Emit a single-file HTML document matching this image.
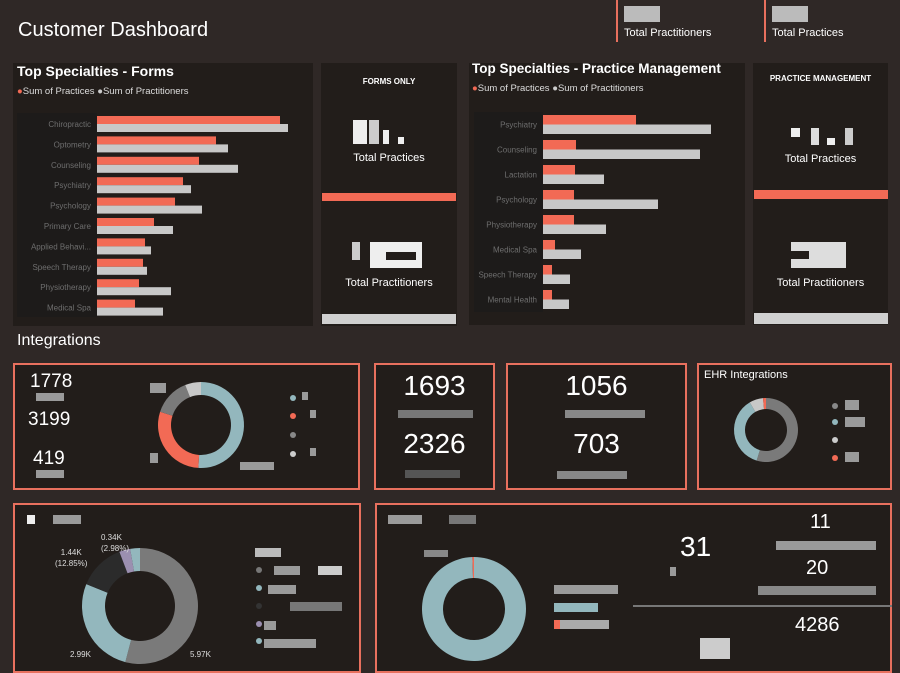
<!DOCTYPE html>
<html><head><meta charset="utf-8">
<style>
body{margin:0;width:900px;height:659px;background:#2f2826;font-family:"Liberation Sans",sans-serif;color:#fff;overflow:hidden;position:relative}
.abs{position:absolute}
.panel{position:absolute;background:#221d1a}
.bord{position:absolute;background:#221d1a;border:2px solid #e8705e;box-sizing:border-box}
.t{position:absolute;white-space:nowrap}
.n{font-family:"Liberation Sans Narrow","Liberation Sans",sans-serif}
.px{position:absolute;background:#9a9a9a}
</style></head><body>
<div class="t" style="left:18px;top:19px;font-size:20px;">Customer Dashboard</div>
<div class="abs" style="left:616px;top:0;width:2px;height:42px;background:#e8705e"></div>
<div class="px" style="left:624px;top:6px;width:36px;height:16px;background:#bbb"></div>
<div class="t" style="left:624px;top:27px;font-size:11px;">Total Practitioners</div>
<div class="abs" style="left:764px;top:0;width:2px;height:42px;background:#e8705e"></div>
<div class="px" style="left:772px;top:6px;width:36px;height:16px;background:#bbb"></div>
<div class="t" style="left:772px;top:27px;font-size:11px;">Total Practices</div>

<div class="panel" style="left:13px;top:63px;width:300px;height:263px"></div>
<div class="t" style="left:17px;top:63px;font-size:14px;font-weight:bold">Top Specialties - Forms</div>
<div class="t" style="left:17px;top:86px;font-size:9.5px;color:#ddd"><span style="color:#f26a55">●</span>Sum of Practices <span style="color:#ccc">●</span>Sum of Practitioners</div>
<svg class="abs" id="formsSvg" style="left:0;top:0" width="320" height="330"></svg>

<div class="panel" style="left:321px;top:63px;width:136px;height:263px"></div>
<div class="t" style="left:321px;width:136px;text-align:center;top:77px;font-size:8px;font-weight:bold">FORMS ONLY</div>
<div class="px" style="left:353px;top:120px;width:14px;height:24px;background:#eee"></div><div class="px" style="left:369px;top:120px;width:10px;height:24px;background:#ccc"></div><div class="px" style="left:383px;top:130px;width:6px;height:14px;background:#eee"></div><div class="px" style="left:398px;top:137px;width:6px;height:7px;background:#eee"></div>
<div class="t" style="left:321px;width:136px;text-align:center;top:152px;font-size:11px">Total Practices</div>
<div class="abs" style="left:322px;top:193px;width:134px;height:8px;background:#f26a55"></div>
<div class="px" style="left:352px;top:242px;width:8px;height:18px;background:#ccc"></div><div class="px" style="left:370px;top:242px;width:52px;height:26px;background:#eee"></div><div class="px" style="left:386px;top:252px;width:30px;height:8px;background:#221d1a"></div>
<div class="t" style="left:321px;width:136px;text-align:center;top:277px;font-size:11px">Total Practitioners</div>
<div class="abs" style="left:322px;top:314px;width:134px;height:10px;background:#d0d0d0"></div>

<div class="panel" style="left:469px;top:63px;width:276px;height:262px"></div>
<div class="t" style="left:472px;top:61px;font-size:13.5px;font-weight:bold">Top Specialties - Practice Management</div>
<div class="t" style="left:472px;top:83px;font-size:9.5px;color:#ddd"><span style="color:#f26a55">●</span>Sum of Practices <span style="color:#ccc">●</span>Sum of Practitioners</div>
<svg class="abs" id="pmSvg" style="left:0;top:0" width="760" height="330"></svg>

<div class="panel" style="left:753px;top:63px;width:135px;height:262px"></div>
<div class="t" style="left:753px;width:135px;text-align:center;top:74px;font-size:8px;font-weight:bold">PRACTICE MANAGEMENT</div>
<div class="px" style="left:791px;top:128px;width:9px;height:9px;background:#eee"></div><div class="px" style="left:811px;top:128px;width:8px;height:17px;background:#ddd"></div><div class="px" style="left:827px;top:138px;width:8px;height:7px;background:#eee"></div><div class="px" style="left:845px;top:128px;width:8px;height:17px;background:#ccc"></div>
<div class="t" style="left:753px;width:135px;text-align:center;top:153px;font-size:11px">Total Practices</div>
<div class="abs" style="left:754px;top:190px;width:134px;height:9px;background:#f26a55"></div>
<div class="px" style="left:791px;top:242px;width:55px;height:26px;background:#ddd"></div><div class="px" style="left:791px;top:251px;width:18px;height:8px;background:#221d1a"></div>
<div class="t" style="left:753px;width:135px;text-align:center;top:277px;font-size:11px">Total Practitioners</div>
<div class="abs" style="left:754px;top:313px;width:134px;height:11px;background:#d0d0d0"></div>

<div class="t" style="left:17px;top:332px;font-size:16px">Integrations</div>

<div class="bord" style="left:13px;top:363px;width:347px;height:127px"></div>
<div class="t n" style="left:30px;top:371px;font-size:19px">1778</div>
<div class="px" style="left:36px;top:393px;width:28px;height:8px"></div>
<div class="t n" style="left:28px;top:409px;font-size:19px">3199</div>
<div class="t n" style="left:33px;top:448px;font-size:19px">419</div>
<div class="px" style="left:36px;top:470px;width:28px;height:8px"></div>
<div class="px" style="left:150px;top:383px;width:16px;height:10px"></div><div class="px" style="left:150px;top:453px;width:8px;height:10px"></div><div class="px" style="left:240px;top:462px;width:34px;height:8px"></div>
<svg class="abs" id="d1" style="left:150px;top:375px" width="100" height="100"></svg>
<div class="abs" style="left:290px;top:395px;width:6px;height:6px;border-radius:3px;background:#93b7bd"></div><div class="px" style="left:302px;top:392px;width:6px;height:8px"></div>
<div class="abs" style="left:290px;top:413px;width:6px;height:6px;border-radius:3px;background:#f26a55"></div><div class="px" style="left:310px;top:410px;width:6px;height:8px"></div>
<div class="abs" style="left:290px;top:432px;width:6px;height:6px;border-radius:3px;background:#888"></div>
<div class="abs" style="left:290px;top:451px;width:6px;height:6px;border-radius:3px;background:#ccc"></div><div class="px" style="left:310px;top:448px;width:6px;height:8px"></div>

<div class="bord" style="left:374px;top:363px;width:121px;height:127px"></div>
<div class="t n" style="left:374px;width:121px;text-align:center;top:370px;font-size:28px">1693</div>
<div class="px" style="left:398px;top:410px;width:75px;height:8px;background:#777"></div>
<div class="t n" style="left:374px;width:121px;text-align:center;top:428px;font-size:28px">2326</div>
<div class="px" style="left:405px;top:470px;width:55px;height:8px;background:#555"></div>

<div class="bord" style="left:506px;top:363px;width:181px;height:127px"></div>
<div class="t n" style="left:506px;width:181px;text-align:center;top:370px;font-size:28px">1056</div>
<div class="px" style="left:565px;top:410px;width:80px;height:8px;background:#888"></div>
<div class="t n" style="left:506px;width:181px;text-align:center;top:428px;font-size:28px">703</div>
<div class="px" style="left:557px;top:471px;width:70px;height:8px;background:#888"></div>

<div class="bord" style="left:697px;top:363px;width:195px;height:127px"></div>
<div class="t" style="left:704px;top:369px;font-size:11px">EHR Integrations</div>
<svg class="abs" id="d2" style="left:726px;top:390px" width="80" height="80"></svg>
<div class="abs" style="left:832px;top:403px;width:6px;height:6px;border-radius:3px;background:#888"></div><div class="px" style="left:845px;top:400px;width:14px;height:10px"></div>
<div class="abs" style="left:832px;top:419px;width:6px;height:6px;border-radius:3px;background:#93b7bd"></div><div class="px" style="left:845px;top:417px;width:20px;height:10px"></div>
<div class="abs" style="left:832px;top:437px;width:6px;height:6px;border-radius:3px;background:#ccc"></div>
<div class="abs" style="left:832px;top:455px;width:6px;height:6px;border-radius:3px;background:#f26a55"></div><div class="px" style="left:845px;top:452px;width:14px;height:10px"></div>

<div class="bord" style="left:13px;top:503px;width:348px;height:170px"></div>
<div class="px" style="left:27px;top:515px;width:8px;height:9px;background:#eee"></div><div class="px" style="left:53px;top:515px;width:28px;height:9px"></div>
<svg class="abs" id="d3" style="left:60px;top:525px" width="180" height="140"></svg>
<div class="t" style="left:101px;top:532px;font-size:8px;color:#ddd;line-height:11px">0.34K<br>(2.98%)</div>
<div class="t" style="left:55px;top:547px;font-size:8px;color:#ddd;line-height:11px;text-align:center">1.44K<br>(12.85%)</div>
<div class="t" style="left:70px;top:650px;font-size:8px;color:#ddd">2.99K</div>
<div class="t" style="left:190px;top:650px;font-size:8px;color:#ddd">5.97K</div>
<div class="px" style="left:255px;top:548px;width:26px;height:9px;background:#bbb"></div>
<div class="abs" style="left:256px;top:567px;width:6px;height:6px;border-radius:3px;background:#777"></div><div class="px" style="left:274px;top:566px;width:26px;height:9px"></div><div class="px" style="left:318px;top:566px;width:24px;height:9px;background:#ccc"></div>
<div class="abs" style="left:256px;top:585px;width:6px;height:6px;border-radius:3px;background:#93b7bd"></div><div class="px" style="left:268px;top:585px;width:28px;height:9px"></div>
<div class="abs" style="left:256px;top:603px;width:6px;height:6px;border-radius:3px;background:#333"></div><div class="px" style="left:290px;top:602px;width:52px;height:9px;background:#777"></div>
<div class="abs" style="left:256px;top:621px;width:6px;height:6px;border-radius:3px;background:#9b8fb0"></div><div class="px" style="left:264px;top:621px;width:12px;height:9px"></div>
<div class="abs" style="left:256px;top:638px;width:6px;height:6px;border-radius:3px;background:#93b7bd"></div><div class="px" style="left:264px;top:639px;width:52px;height:9px"></div>

<div class="bord" style="left:375px;top:503px;width:517px;height:170px"></div>
<div class="px" style="left:388px;top:515px;width:34px;height:9px"></div><div class="px" style="left:449px;top:515px;width:27px;height:9px;background:#777"></div>
<div class="px" style="left:424px;top:550px;width:24px;height:7px;background:#888"></div>
<svg class="abs" id="d4" style="left:415px;top:550px" width="120" height="115"></svg>
<div class="px" style="left:554px;top:585px;width:64px;height:9px"></div>
<div class="px" style="left:554px;top:603px;width:44px;height:9px;background:#93b7bd"></div>
<div class="px" style="left:554px;top:620px;width:55px;height:9px;background:#aaa"></div><div class="abs" style="left:554px;top:620px;width:6px;height:9px;background:#f26a55"></div>
<div class="t n" style="left:680px;top:531px;font-size:28px">31</div>
<div class="px" style="left:670px;top:567px;width:6px;height:9px"></div>
<div class="t n" style="left:810px;top:511px;font-size:20px">11</div>
<div class="px" style="left:776px;top:541px;width:100px;height:9px"></div>
<div class="t n" style="left:806px;top:557px;font-size:20px">20</div>
<div class="px" style="left:758px;top:586px;width:118px;height:9px;background:#888"></div>
<div class="abs" style="left:633px;top:605px;width:259px;height:2px;background:#777"></div>
<div class="t n" style="left:795px;top:614px;font-size:20px">4286</div>
<div class="px" style="left:700px;top:638px;width:30px;height:21px;background:#ccc"></div>

<script>
const NS='http://www.w3.org/2000/svg';
function mk(svg,tag,at){const e=document.createElementNS(NS,tag);for(const k in at)e.setAttribute(k,at[k]);svg.appendChild(e);return e;}

const formsCategories=['Chiropractic','Optometry','Counseling','Psychiatry','Psychology','Primary Care','Applied Behavi...','Speech Therapy','Physiotherapy','Medical Spa'];
const formsPractices=[183,119,102,86,78,57,48,46,42,38];
const formsPractitioners=[191,131,141,94,105,76,54,50,74,66];
const pmCategories=['Psychiatry','Counseling','Lactation','Psychology','Physiotherapy','Medical Spa','Speech Therapy','Mental Health'];
const pmPractices=[93,33,32,31,31,12,9,9];
const pmPractitioners=[168,157,61,115,63,38,27,26];

function barChart(svgId,name,cats,p1,p2,x0,y0,step,bh,labelLeft,maxV,width){
  const svg=document.getElementById(svgId);
  const xs=v=>v/maxV*width;
  mk(svg,'rect',{x:labelLeft,y:y0-3,width:x0-labelLeft,height:step*cats.length,fill:'#1d1b1a'});
  cats.forEach((c,i)=>{
    const y=y0+i*step;
    const t=mk(svg,'text',{x:x0-6,y:y+bh+3,'text-anchor':'end','font-size':'8','fill':'#6e6e6e','font-family':'Liberation Sans, sans-serif'});
    t.textContent=c;
    
    
    const a=mk(svg,'rect',{x:x0,y:y,width:xs(p1[i]),height:bh,fill:'#f26a55'});
    
    
    const b=mk(svg,'rect',{x:x0,y:y+bh,width:xs(p2[i]),height:bh,fill:'#c8c8c8'});
    
    
  });
}
barChart('formsSvg','forms',formsCategories,formsPractices,formsPractitioners,97,116,20.4,8,17,200,200);
barChart('pmSvg','pm',pmCategories,pmPractices,pmPractitioners,543,115,25,9.5,474,180,180);

function donut(id,name,cx,cy,R,r,vals,cols){
  const svg=document.getElementById(id);
  const tot=vals.reduce((a,b)=>a+b,0);let a0=0;
  vals.forEach((v,i)=>{
    const a1=a0+v/tot*Math.PI*2;
    const p=(a,rad)=>[cx+rad*Math.sin(a),cy-rad*Math.cos(a)];
    const [x1,y1]=p(a0,R),[x2,y2]=p(a1,R),[x3,y3]=p(a1,r),[x4,y4]=p(a0,r);
    const lg=(a1-a0)>Math.PI?1:0;
    let d;
    if(v/tot>0.9999){d=`M${cx} ${cy-R}A${R} ${R} 0 1 1 ${cx-0.01} ${cy-R}ZM${cx} ${cy-r}A${r} ${r} 0 1 0 ${cx-0.01} ${cy-r}Z`;}
    else d=`M${x1} ${y1}A${R} ${R} 0 ${lg} 1 ${x2} ${y2}L${x3} ${y3}A${r} ${r} 0 ${lg} 0 ${x4} ${y4}Z`;
    const e=mk(svg,'path',{d:d,fill:cols[i],'fill-rule':'evenodd'});
    
    
    a0=a1;
  });
}
const d1Values=[51,29,14,6];
const d2Values=[55,37,7,1.5];
const d3Values=[5.97,2.99,1.44,0.34,0.3];
const d4Values=[99.5,0.5];
donut('d1','integrations-donut',51,50,43,30,d1Values,['#93b7bd','#f26a55','#7a7a7a','#c8c8c8']);
donut('d2','ehr-donut',40,40,32,21,d2Values,['#7a7a7a','#93b7bd','#c8c8c8','#f26a55']);
donut('d3','bottom-left-donut',80,81,58,35,d3Values,['#7a7a7a','#93b7bd','#2b2b2b','#9b8fb0','#93b7bd']);
donut('d4','bottom-right-donut',59,59,52,31,d4Values,['#93b7bd','#f26a55']);
</script>
</body></html>
